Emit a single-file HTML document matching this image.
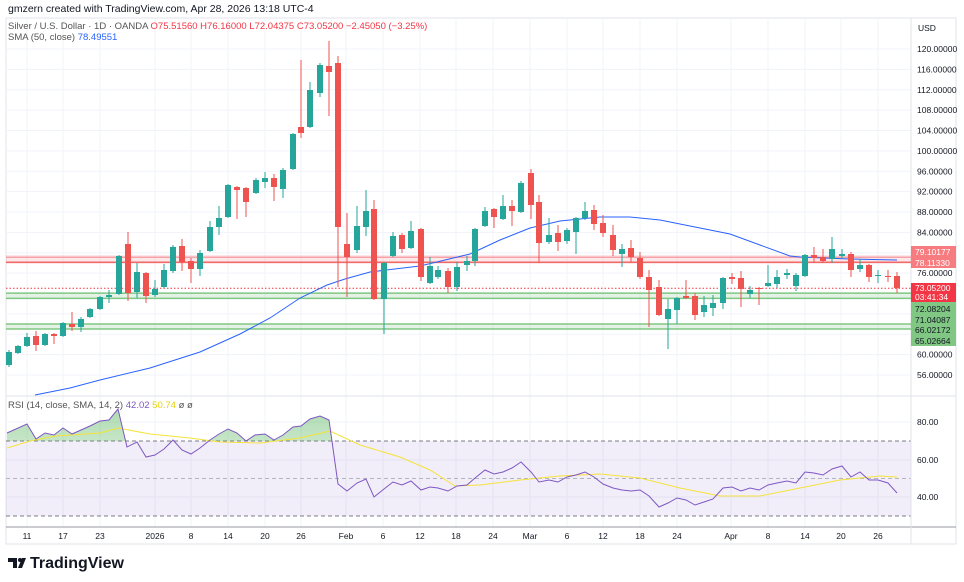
<!DOCTYPE html>
<html><head><meta charset="utf-8"><style>
body{margin:0;background:#fff;width:964px;height:582px;overflow:hidden;font-family:"Liberation Sans",sans-serif}
svg{position:absolute;left:0;top:0}
</style></head><body>
<svg id="s" width="964" height="582" xmlns="http://www.w3.org/2000/svg" font-family="Liberation Sans, sans-serif">
<defs>
<linearGradient id="gg" x1="0" y1="0" x2="0" y2="1"><stop offset="0" stop-color="#4caf50" stop-opacity="0.45"/><stop offset="1" stop-color="#4caf50" stop-opacity="0.05"/></linearGradient>
<clipPath id="above"><rect x="6" y="396" width="905" height="45"/></clipPath>
</defs>
<text x="8" y="12" font-size="10.5" fill="#131722">gmzern created with TradingView.com, Apr 28, 2026 13:18 UTC-4</text>
<rect x="6" y="18" width="950" height="526" fill="none" stroke="#e0e3eb"/>
<g id="grid" stroke="#f0f3fa" stroke-width="1"></g>
<rect x="6" y="441" width="905" height="75" fill="#7e57c2" fill-opacity="0.1"/>
<line x1="6" x2="911" y1="441" y2="441" stroke="#787b86" stroke-dasharray="4,3"/>
<line x1="6" x2="911" y1="478.5" y2="478.5" stroke="#b2b5be" stroke-dasharray="4,3"/>
<line x1="6" x2="911" y1="516" y2="516" stroke="#787b86" stroke-dasharray="4,3"/>
<line x1="6" x2="956" y1="396" y2="396" stroke="#e0e3eb"/>
<line x1="6" x2="956" y1="527" y2="527" stroke="#9598a1"/>
<line x1="911" x2="911" y1="18" y2="544" stroke="#e0e3eb"/>
<rect x="6" y="255" width="905" height="9" fill="#f23645" fill-opacity="0.12"/>
<line x1="6" x2="911" y1="257.3" y2="257.3" stroke="#f7a1a8" stroke-width="1.5"/>
<line x1="6" x2="911" y1="262.3" y2="262.3" stroke="#f06a6a" stroke-width="1.5"/>
<rect x="6" y="293" width="905" height="5" fill="#4caf50" fill-opacity="0.15"/>
<line x1="6" x2="911" y1="293.1" y2="293.1" stroke="#81c784" stroke-width="1.5"/>
<line x1="6" x2="911" y1="298.4" y2="298.4" stroke="#81c784" stroke-width="1.5"/>
<rect x="6" y="324" width="905" height="5" fill="#4caf50" fill-opacity="0.15"/>
<line x1="6" x2="911" y1="324" y2="324" stroke="#81c784" stroke-width="1.5"/>
<line x1="6" x2="911" y1="329" y2="329" stroke="#81c784" stroke-width="1.5"/>
<line x1="6" x2="911" y1="288.2" y2="288.2" stroke="#f23645" stroke-dasharray="1.5,2"/>
<polyline fill="none" stroke="#2962ff" stroke-width="1" points="35,395 70,388 100,380 150,368 200,352 240,334 270,318 300,298 327,285 345,279 370,272 420,266 470,254 500,240 530,228 560,221 600,217 630,217 660,220 700,228 730,234 760,245 790,256 800,257 850,259 897,260"/>
<g id="candles"></g>
<path id="rsifill" clip-path="url(#above)" fill="url(#gg)"/>
<polyline id="sig" fill="none" stroke="#f5e33b" stroke-width="1"/>
<polyline id="rsi" fill="none" stroke="#7e57c2" stroke-width="1"/>
<g id="axis" font-size="8.5" fill="#131722"></g>
<text x="918" y="31" font-size="8.5" fill="#131722">USD</text>
<g font-size="8.5" fill="#fff">
<rect x="911" y="246" width="45" height="11" fill="#f77c80"/><text x="915" y="255">79.10177</text>
<rect x="911" y="257" width="45" height="11" fill="#f77c80"/><text x="915" y="266">78.11330</text>
<rect x="911" y="283" width="45" height="19" fill="#f23645"/><text x="915" y="291">73.05200</text><text x="915" y="300">03:41:34</text>
<rect x="911" y="302" width="45" height="44" fill="#81c784"/>
<text x="915" y="312" fill="#131722">72.08204</text><text x="915" y="323" fill="#131722">71.04087</text><text x="915" y="333" fill="#131722">66.02172</text><text x="915" y="344" fill="#131722">65.02664</text>
</g>
<text x="8" y="29" font-size="9.5" fill="#555"><tspan>Silver / U.S. Dollar · 1D · OANDA </tspan><tspan fill="#f23645">O75.51560 H76.16000 L72.04375 C73.05200 −2.45050 (−3.25%)</tspan></text>
<text x="8" y="40" font-size="9.5" fill="#555">SMA (50, close) <tspan fill="#2962ff">78.49551</tspan></text>
<text x="8" y="408" font-size="9.5" fill="#555">RSI (14, close, SMA, 14, 2) <tspan fill="#7e57c2">42.02</tspan> <tspan fill="#e8d20c">50.74</tspan> ø ø</text>
<text x="30" y="568" font-size="16" font-weight="bold" fill="#131722">TradingView</text>
<path d="M8 558h9v10h-4v-6h-5z M18 568l4-10h4l-4 10z" fill="#131722"/>
<circle cx="20" cy="560" r="2" fill="#131722"/>
</svg>
<script>
var NS="http://www.w3.org/2000/svg";
function el(p,t,a){var e=document.createElementNS(NS,t);for(var k in a)e.setAttribute(k,a[k]);document.getElementById(p).appendChild(e);return e;}
var tx=[[27,"11"],[63,"17"],[100,"23"],[155,"2026"],[191,"8"],[228,"14"],[265,"20"],[301,"26"],[346,"Feb"],[383,"6"],[420,"12"],[456,"18"],[493,"24"],[530,"Mar"],[567,"6"],[603,"12"],[640,"18"],[677,"24"],[731,"Apr"],[768,"8"],[805,"14"],[841,"20"],[878,"26"]];
tx.forEach(function(t){el("grid","line",{x1:t[0],x2:t[0],y1:18,y2:527});var e=el("axis","text",{x:t[0],y:539,"text-anchor":"middle"});e.textContent=t[1];});
for(var p=120;p>=56;p-=4){var y=49+(120-p)*5.094;el("grid","line",{x1:6,x2:911,y1:y,y2:y});if(p!=80&&p!=76&&p!=72&&p!=68&&p!=64){var e=el("axis","text",{x:917,y:y+3});e.textContent=p.toFixed(5);}}
[["76.00000",273.1]].forEach(function(a){var e=el("axis","text",{x:917,y:a[1]+3});e.textContent=a[0];});
[[80,422],[60,460],[40,497]].forEach(function(a){el("grid","line",{x1:6,x2:911,y1:a[1],y2:a[1]});var e=el("axis","text",{x:917,y:a[1]+3});e.textContent=a[0].toFixed(2);});
var C=[[9,352,365,350,367,1],[18,346,353,345,354,1],[27,337,346,333,347,1],[36,336,345,331,351,0],[45,334,345,333,346,1],[54,334,336,333,344,0],[63,323,336,322,337,1],[72,324,327,312,331,0],[81,319,327,317,332,1],[90,309,317,308,318,1],[100,297,309,296,310,1],[109,295,297,290,303,1],[119,256,294,255,295,1],[128,244,293,232,301,0],[137,272,292,263,298,1],[146,273,296,272,303,0],[155,289,295,280,297,1],[164,270,287,264,288,1],[173,247,271,245,273,1],[182,246,262,239,271,0],[191,261,269,258,283,0],[200,253,269,250,276,1],[210,227,251,221,252,1],[219,218,227,206,235,1],[228,185,217,184,218,1],[237,187,190,186,219,0],[246,188,202,187,217,0],[256,180,193,178,194,1],[265,178,182,172,188,1],[274,178,187,174,201,0],[283,170,189,168,198,1],[293,134,169,133,170,1],[301,127,133,60,138,0],[310,90,127,82,128,1],[320,65,93,63,97,1],[329,66,72,41,116,0],[338,63,227,56,287,0],[347,244,257,213,297,0],[357,226,250,206,253,1],[366,211,227,190,236,1],[374,209,299,200,300,0],[384,263,299,262,334,1],[393,236,256,232,257,1],[402,235,249,233,253,0],[411,231,248,221,249,1],[421,229,277,228,281,0],[430,266,283,257,284,1],[438,270,277,266,279,1],[448,271,287,268,293,0],[457,267,287,262,291,1],[467,261,265,256,271,1],[475,229,261,228,266,1],[485,211,226,207,227,1],[494,209,217,208,228,0],[503,206,219,195,220,1],[512,206,211,200,226,0],[521,183,212,181,213,1],[531,173,205,169,219,0],[539,202,243,195,263,0],[549,235,242,218,244,1],[558,233,242,225,251,0],[567,230,241,228,244,1],[576,218,232,217,254,1],[585,211,218,202,220,1],[594,210,224,205,230,0],[603,223,233,215,237,0],[613,235,250,225,256,0],[622,249,254,244,267,1],[631,248,257,240,262,0],[640,258,277,252,279,0],[649,277,290,270,327,0],[659,287,315,280,316,0],[668,309,319,299,349,1],[677,298,310,297,324,1],[686,296,298,280,299,0],[695,296,315,293,320,0],[704,305,312,296,317,1],[713,303,308,295,316,1],[723,278,303,277,309,1],[732,277,279,273,284,0],[741,278,289,271,307,0],[750,290,294,286,298,1],[759,288,289,287,305,0],[768,283,286,265,287,1],[777,277,284,270,288,1],[787,273,275,269,279,1],[796,275,286,273,291,1],[805,255,276,254,277,1],[814,255,258,247,263,0],[823,257,261,249,263,0],[832,249,259,237,263,1],[842,254,256,249,259,1],[851,254,270,252,277,0],[860,265,269,259,272,1],[869,265,277,264,282,0],[878,275,276,270,283,1],[888,276,277,270,282,0],[897,276,288,272,293,0]];
C.forEach(function(c){var col=c[5]?"#26a69a":"#ef5350";el("candles","line",{x1:c[0],x2:c[0],y1:c[3],y2:c[4],stroke:col});el("candles","rect",{x:c[0]-3,y:c[1],width:6,height:Math.max(1,c[2]-c[1]),fill:col});});
var R=[[7,433],[27,424],[36,439],[45,433],[54,435],[63,428],[72,434],[81,430],[90,426],[100,421],[109,420],[118,409],[127,447],[137,442],[146,457],[155,455],[164,449],[173,440],[182,450],[191,454],[200,448],[210,440],[219,434],[228,429],[237,433],[246,441],[255,435],[265,434],[274,440],[283,435],[293,427],[301,426],[310,419],[320,416],[329,420],[338,484],[347,491],[357,483],[366,479],[374,497],[384,489],[393,482],[402,485],[411,481],[421,490],[430,487],[438,488],[448,491],[457,486],[467,485],[475,478],[485,470],[494,474],[503,472],[512,468],[521,462],[531,472],[539,482],[549,480],[558,482],[567,477],[576,475],[585,472],[594,477],[603,484],[613,488],[622,490],[631,491],[640,490],[649,496],[659,507],[668,503],[677,498],[686,500],[695,505],[704,502],[713,499],[723,488],[732,487],[741,491],[750,488],[759,490],[768,485],[777,483],[787,481],[796,483],[805,472],[814,473],[823,475],[832,469],[842,466],[851,477],[860,472],[869,480],[878,480],[888,483],[897,493]];
var pts=R.map(function(p){return p.join(",")}).join(" ");
document.getElementById("rsi").setAttribute("points",pts);
document.getElementById("rsifill").setAttribute("d","M7,441 L"+R.map(function(p){return p.join(",")}).join(" L")+" L897,441 Z");
document.getElementById("sig").setAttribute("points","7,448 30,441 55,436 100,433 118,428 150,434 190,438 220,442 260,443 300,438 330,431 360,445 400,457 430,470 455,486 480,485 520,480 560,476 600,474 640,478 680,488 720,496 760,496 800,488 840,480 880,476 897,477");
</script>
</body></html>
